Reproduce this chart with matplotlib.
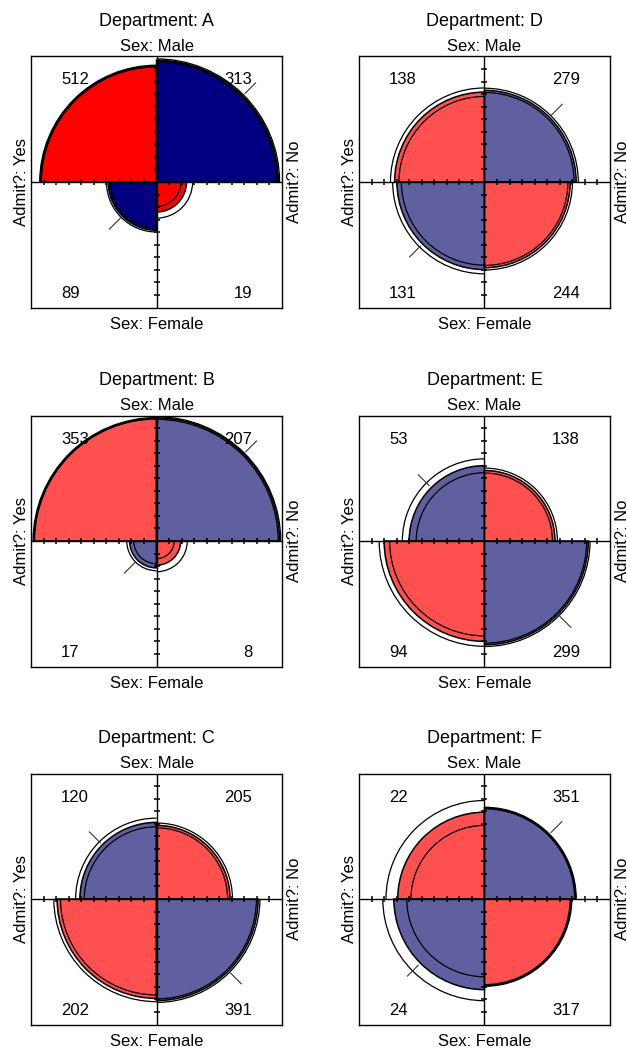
import numpy as np
import matplotlib
matplotlib.use("Agg")
import matplotlib.pyplot as plt
from matplotlib.patches import Wedge, Arc

plt.rcParams["font.family"] = ["Liberation Sans", "DejaVu Sans"]

# UC Berkeley admissions by department (rows: Sex, columns: Admit?)
departments = ["A", "B", "C", "D", "E", "F"]
male_admitted = [512, 353, 120, 138, 53, 22]
male_rejected = [313, 207, 205, 279, 138, 351]
female_admitted = [89, 17, 202, 131, 94, 24]
female_rejected = [19, 8, 391, 244, 299, 317]

row_labels = ["Sex: Male", "Sex: Female"]
col_labels = ["Admit?: Yes", "Admit?: No"]

CONF_Z = 1.959964  # 95% confidence rings

RED_DARK, BLUE_DARK = "#ff0000", "#000080"
RED_LIGHT, BLUE_LIGHT = "#ff5050", "#6060a0"

W, H = 627, 1050
fig = plt.figure(figsize=(W / 100, H / 100), dpi=100)

BOX = 251
col_left = [31, 359]
row_top = [56.5, 415.5, 773.5]


def solve_cell(psi, r1, r2, c1):
    """Top-left count of the table with the given margins and odds ratio psi."""
    lo = max(0.0, c1 - r2) + 1e-9
    hi = min(r1, c1) - 1e-9
    for _ in range(200):
        mid = 0.5 * (lo + hi)
        f = mid * (r2 - c1 + mid) / ((r1 - mid) * (c1 - mid))
        if f < psi:
            lo = mid
        else:
            hi = mid
    return 0.5 * (lo + hi)


def standardize(tl, tr, bl, br):
    c1 = tl + bl
    c2 = tr + br
    return np.array([tl / c1, tr / c2, bl / c1, br / c2])


# quadrant order: top-left, top-right, bottom-left, bottom-right
ANGLES = [(90, 180), (0, 90), (180, 270), (270, 360)]


def fourfold(ax, k):
    tl, tr = male_admitted[k], male_rejected[k]
    bl, br = female_admitted[k], female_rejected[k]
    r1, r2, c1 = tl + tr, bl + br, tl + bl

    std = standardize(tl, tr, bl, br)
    lor = np.log(tl * br / (tr * bl))
    se = np.sqrt(1 / tl + 1 / tr + 1 / bl + 1 / br)
    bounds = np.exp([lor - CONF_Z * se, lor + CONF_Z * se])
    significant = bounds[0] > 1 or bounds[1] < 1

    red = RED_DARK if significant else RED_LIGHT
    blue = BLUE_DARK if significant else BLUE_LIGHT
    if lor > 0:
        colors = [blue, red, red, blue]
    else:
        colors = [red, blue, blue, red]

    radii = np.sqrt(std)
    for (t1, t2), r, col in zip(ANGLES, radii, colors):
        ax.add_patch(Wedge((0, 0), r, t1, t2, facecolor=col,
                           edgecolor="black", linewidth=1.1, zorder=2))

    # confidence rings from tables with the observed margins
    for psi in bounds:
        a = solve_cell(psi, r1, r2, c1)
        ring = standardize(a, r1 - a, c1 - a, r2 - c1 + a)
        for (t1, t2), v in zip(ANGLES, ring):
            rr = np.sqrt(v)
            ax.add_patch(Arc((0, 0), 2 * rr, 2 * rr, theta1=t1, theta2=t2,
                             color="black", linewidth=0.9, zorder=3))

    # short diagonal marks on the blue quadrants
    for (t1, t2), r, col in zip(ANGLES, radii, colors):
        if col == blue:
            th = np.deg2rad(0.5 * (t1 + t2))
            rs = np.array([r + 0.02, r + 0.15])
            ax.plot(rs * np.cos(th), rs * np.sin(th), color="#333333",
                    linewidth=0.8, zorder=3, solid_capstyle="butt")

    # axes through the centre with tick marks
    ax.plot([-1, 1], [0, 0], color="black", linewidth=1.0, zorder=4)
    ax.plot([0, 0], [-1, 1], color="black", linewidth=1.0, zorder=4)
    ticks = np.concatenate([-np.arange(1, 10) / 10, np.arange(1, 10) / 10])
    ax.plot(ticks, np.zeros_like(ticks), linestyle="none", marker="|",
            markersize=4, markeredgewidth=1.1, color="black", zorder=4)
    ax.plot(np.zeros_like(ticks), ticks, linestyle="none", marker="_",
            markersize=4, markeredgewidth=1.1, color="black", zorder=4)

    # cell counts
    counts = [tl, tr, bl, br]
    spots = [((0, 1), (30, -28), "left"), ((1, 1), (-30, -28), "right"),
             ((0, 0), (30, 9.5), "left"), ((1, 0), (-30, 9.5), "right")]
    for n, (xy, off, ha) in zip(counts, spots):
        ax.annotate(str(n), xy=xy, xycoords="axes fraction", xytext=off,
                    textcoords="offset pixels", ha=ha, va="baseline",
                    fontsize=12, zorder=5)

    ax.annotate(f"Department: {departments[k]}", xy=(0.5, 1),
                xycoords="axes fraction", xytext=(0, 30.5),
                textcoords="offset pixels", ha="center", va="baseline",
                fontsize=13, annotation_clip=False)
    ax.annotate(row_labels[0], xy=(0.5, 1), xycoords="axes fraction",
                xytext=(0, 5), textcoords="offset pixels", ha="center",
                va="baseline", fontsize=12, annotation_clip=False)
    ax.annotate(row_labels[1], xy=(0.5, 0), xycoords="axes fraction",
                xytext=(0, -21.5), textcoords="offset pixels", ha="center",
                va="baseline", fontsize=12, annotation_clip=False)
    ax.annotate(col_labels[0], xy=(0, 0.5), xycoords="axes fraction",
                xytext=(-2, 0), textcoords="offset pixels", ha="right",
                va="center", rotation=90, fontsize=12, annotation_clip=False)
    ax.annotate(col_labels[1], xy=(1, 0.5), xycoords="axes fraction",
                xytext=(5, 0), textcoords="offset pixels", ha="left",
                va="center", rotation=90, fontsize=12, annotation_clip=False)


for k in range(len(departments)):
    col, row = divmod(k, 3)
    left = col_left[col] / W
    bottom = (H - row_top[row] - BOX) / H
    ax = fig.add_axes([left, bottom, BOX / W, BOX / H])
    ax.set_xlim(-1, 1)
    ax.set_ylim(-1, 1)
    ax.set_xticks([])
    ax.set_yticks([])
    for sp in ax.spines.values():
        sp.set_linewidth(1.0)
        sp.set_zorder(6)
    fourfold(ax, k)

fig.savefig("out.png", dpi=100, facecolor="white")
